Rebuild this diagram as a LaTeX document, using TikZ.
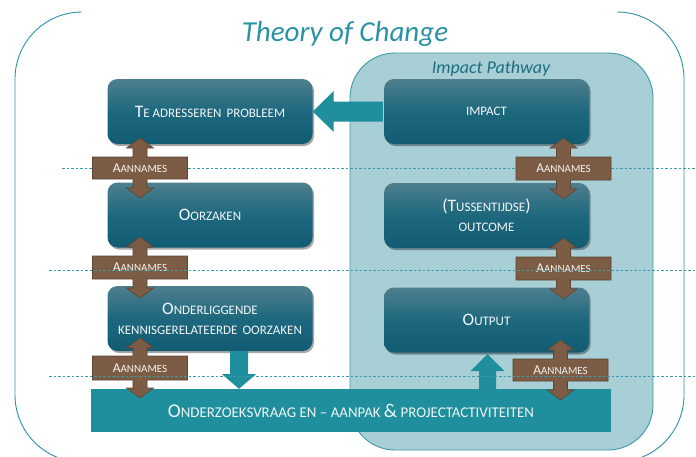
\documentclass[tikz,border=0pt]{standalone}
\usepackage{fontspec}
\setmainfont{Carlito}
\usetikzlibrary{calc,shadows}
\definecolor{frameteal}{HTML}{2A93A3}
\definecolor{pathfill}{HTML}{A8CED6}
\definecolor{pathline}{HTML}{3A9AAA}
\definecolor{barteal}{HTML}{1F8F9D}
\definecolor{brownF}{HTML}{7C5C44}
\definecolor{brownD}{HTML}{5E4432}
\definecolor{boxtop}{HTML}{4F7F8E}
\definecolor{boxmid}{HTML}{1D687E}
\definecolor{boxbot}{HTML}{125C73}
\definecolor{ipteal}{HTML}{1F6E80}
\newcommand{\bigL}[1]{{\fontsize{17.5}{20}\selectfont #1}}
\newcommand{\bigA}[1]{{\fontsize{13.5}{16}\selectfont #1}}
\newcommand{\bigB}[1]{{\fontsize{19.5}{22}\selectfont #1}}
\tikzset{
  darkbox/.style={rounded corners=10pt, minimum width=205pt, minimum height=65pt,
    top color=boxtop, bottom color=boxbot, middle color=boxmid,
    drop shadow={shadow xshift=1.5pt, shadow yshift=-2pt, opacity=0.35, fill=black},
    text=white!94!boxtop, align=center, inner sep=0pt, font=\fontsize{13}{20}\selectfont},
  brownshape/.style={fill=brownF, draw=brownD, line width=0.6pt},
  anntext/.style={text=white!92!brownF, inner sep=0pt, font=\fontsize{11}{13}\selectfont},
  tealarr/.style={fill=barteal},
  dashline/.style={draw=pathline, line width=0.7pt, dash pattern=on 2.5pt off 2pt},
}
\newcommand{\brownarr}[7]{%
  \draw[brownshape] ({#2-#7},#3) -- ({#2-7},#3) -- ({#2-7},{#5+10}) -- ({#2-13.5},{#5+10}) -- (#2,#5)
    -- ({#2+13.5},{#5+10}) -- ({#2+7},{#5+10}) -- ({#2+7},#3) -- ({#2+#7},#3) -- ({#2+#7},#4)
    -- ({#2+7},#4) -- ({#2+7},{#6-10}) -- ({#2+13.5},{#6-10}) -- (#2,#6) -- ({#2-13.5},{#6-10})
    -- ({#2-7},{#6-10}) -- ({#2-7},#4) -- ({#2-#7},#4) -- cycle;
  \node[anntext] (#1) at (#2,{(#3+#4)/2}) {\bigA{A}ANNAMES};}
\begin{document}
\begin{tikzpicture}[x=1pt,y=-1pt]
\useasboundingbox (0,0) rectangle (696,456);
% outer frame
\draw[frameteal, line width=0.9pt, rounded corners=67pt]
  (82,12) -- (15,12) -- (15,462) -- (684,462) -- (684,12) -- (618,12);
\node[text=frameteal, font=\fontsize{29}{32}\selectfont\itshape] (title) at (345,34) {Theory of Change};
% impact pathway
\node[draw=pathline, fill=pathfill, line width=0.9pt, rounded corners=45pt,
  minimum width=303pt, minimum height=397pt, inner sep=0pt] (ip) at (501.5,251.5) {};
\node[text=ipteal, font=\fontsize{18}{20}\selectfont\itshape] (iplabel) at (491,69) {Impact Pathway};
% dashed line row 1
\draw[dashline] (62,168) -- (696,168);
% boxes
\node[darkbox] (prob) at (210,111.5) {\bigL{T}E ADRESSEREN\, PROBLEEM};
\node[darkbox] (imp) at (486.5,111.5) {IMPACT};
\node[darkbox] (oor) at (210,215) {\bigL{O}ORZAKEN};
\node[darkbox] (outc) at (486.5,215.5) {\bigL{(T}USSENTIJDSE\bigL{)}\\OUTCOME};
\node[darkbox] (ond) at (210,318.5) {\bigL{O}NDERLIGGENDE\\KENNISGERELATEERDE\, OORZAKEN};
\node[darkbox] (outp) at (486.5,320) {\bigL{O}UTPUT};
% teal block arrows
\fill[tealarr] (prob.east) -- ++(21,-20.5) -- ++(0,10.5) -- ($(imp.west)+(-1,-10)$)
  -- ($(imp.west)+(-1,10)$) -- ($(prob.east)+(21,10)$) -- ($(prob.east)+(21,20.5)$) -- cycle;
% bar
\node[fill=barteal, minimum width=520pt, minimum height=43pt, inner sep=0pt,
  text=white!92!barteal, font=\fontsize{14.9}{18}\selectfont] (bar) at (351,410.5)
  {\bigB{O}NDERZOEKSVRAAG EN -- AANPAK \bigB{\&} PROJECTACTIVITEITEN};
\coordinate (dtip) at ($(bar.north -| ond.south)+(29,0)$);
\coordinate (utip) at ($(outp.south)+(1,1.5)$);
\fill[tealarr] ($(ond.south)+(20,0)$) -- ($(ond.south)+(20,23)$) -- ($(ond.south)+(12,23)$)
  -- (dtip) -- ($(ond.south)+(46,23)$) -- ($(ond.south)+(38,23)$) -- ($(ond.south)+(38,0)$) -- cycle;
\fill[tealarr] ($(utip |- bar.north)+(-8.5,1)$) -- ($(utip)+(-8.5,17)$) -- ($(utip)+(-17,17)$)
  -- (utip) -- ($(utip)+(17,17)$) -- ($(utip)+(8.5,17)$) -- ($(utip |- bar.north)+(8.5,1)$) -- cycle;
% brown assumption arrows
\brownarr{a1l}{140}{157}{179}{138}{198}{47.5}
\brownarr{a1r}{563.5}{157}{180}{138}{199}{47.5}
\brownarr{a2l}{140}{256}{279}{237}{298}{47.5}
\brownarr{a2r}{563.5}{257}{280}{238}{299}{47.5}
\brownarr{a3l}{140}{356}{380}{338}{398}{47.5}
\brownarr{a3r}{560.5}{359}{381}{340}{400}{47.5}
% dashed lines rows 2,3
\draw[dashline] (49,270) -- (696,270);
\draw[dashline] (49,376) -- (696,376);
\end{tikzpicture}
\end{document}
